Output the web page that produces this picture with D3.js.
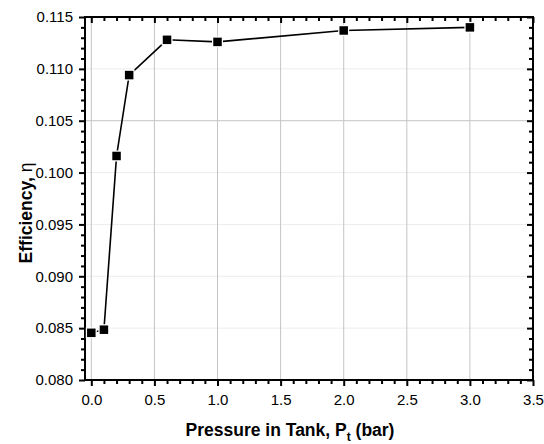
<!DOCTYPE html>
<html>
<head>
<meta charset="utf-8">
<script src="https://cdn.jsdelivr.net/npm/d3@7/dist/d3.min.js"></script>
<style>
  html, body { margin: 0; padding: 0; background: #fff; }
  svg { display: block; font-family: "Liberation Sans", Arial, sans-serif; }
</style>
</head>
<body>
<svg id="chart" width="544" height="444"></svg>
<script>
// Measured tank pressure (bar) and resulting efficiency
const pressure = [0.0, 0.1, 0.2, 0.3, 0.6, 1.0, 2.0, 3.0];
const efficiency = [0.08455, 0.08485, 0.1016, 0.1094, 0.1128, 0.1126, 0.1137, 0.1140];

const xTicks = [0.0, 0.5, 1.0, 1.5, 2.0, 2.5, 3.0, 3.5];
const yTicks = [0.080, 0.085, 0.090, 0.095, 0.100, 0.105, 0.110, 0.115];

const svg = d3.select("#chart");
const plotL = 85, plotR = 533, plotT = 17, plotB = 380;

const x = d3.scaleLinear().domain([-0.05, 3.5]).range([plotL, plotR]);
const y = d3.scaleLinear().domain([0.080, 0.115]).range([plotB, plotT]);

const xMinor = d3.range(0, 35.5, 1).map(d => d / 10).filter(d => Math.round(d * 10) % 5 !== 0);
const yMinor = d3.range(80, 115.5, 1).map(d => d / 1000).filter(d => Math.round(d * 1000) % 5 !== 0);

// grid
const grid = svg.append("g");
grid.selectAll("line.h").data(yTicks.slice(1, -1)).join("line")
  .attr("x1", plotL).attr("x2", plotR)
  .attr("y1", d => y(d)).attr("y2", d => y(d))
  .attr("stroke", d => Math.abs(d - 0.105) < 1e-9 ? "#c4c4c4" : "#ececec")
  .attr("stroke-width", 1);
grid.selectAll("line.v").data(xTicks.slice(0, -1)).join("line")
  .attr("x1", d => x(d)).attr("x2", d => x(d))
  .attr("y1", plotT).attr("y2", plotB)
  .attr("stroke", "#c4c4c4").attr("stroke-width", 1);

// axes: bottom/left ticks outward, top/right mirror ticks inward
function styleAxis(g) {
  g.select(".domain").remove();
  g.selectAll(".tick line").attr("stroke", "#000").attr("stroke-width", 2);
  g.selectAll("text").attr("font-size", 15).attr("fill", "#000")
    .attr("font-family", "'Liberation Sans', Arial, sans-serif");
}

svg.append("g").attr("transform", `translate(0,${plotB})`)
  .call(d3.axisBottom(x).tickValues(xTicks).tickFormat(d3.format(".1f")).tickSize(6).tickPadding(8))
  .call(styleAxis);
svg.append("g").attr("transform", `translate(0,${plotB})`)
  .call(d3.axisBottom(x).tickValues(xMinor).tickFormat("").tickSize(4)).call(styleAxis);

svg.append("g").attr("transform", `translate(${plotL},0)`)
  .call(d3.axisLeft(y).tickValues(yTicks).tickFormat(d3.format(".3f")).tickSize(6).tickPadding(6))
  .call(styleAxis);
svg.append("g").attr("transform", `translate(${plotL},0)`)
  .call(d3.axisLeft(y).tickValues(yMinor).tickFormat("").tickSize(4)).call(styleAxis);

svg.append("g").attr("transform", `translate(0,${plotT})`)
  .call(d3.axisBottom(x).tickValues(xTicks).tickFormat("").tickSize(6)).call(styleAxis);
svg.append("g").attr("transform", `translate(0,${plotT})`)
  .call(d3.axisBottom(x).tickValues(xMinor).tickFormat("").tickSize(4)).call(styleAxis);
svg.append("g").attr("transform", `translate(${plotR},0)`)
  .call(d3.axisLeft(y).tickValues(yTicks).tickFormat("").tickSize(6)).call(styleAxis);
svg.append("g").attr("transform", `translate(${plotR},0)`)
  .call(d3.axisLeft(y).tickValues(yMinor).tickFormat("").tickSize(4)).call(styleAxis);

// frame
svg.append("rect").attr("x", plotL).attr("y", plotT)
  .attr("width", plotR - plotL).attr("height", plotB - plotT)
  .attr("fill", "none").attr("stroke", "#000").attr("stroke-width", 2);

// data line and square markers
const pts = pressure.map((p, i) => [p, efficiency[i]]);
svg.append("path").datum(pts)
  .attr("d", d3.line().x(d => x(d[0])).y(d => y(d[1])))
  .attr("fill", "none").attr("stroke", "#000").attr("stroke-width", 1.6);

const ms = 8.5;
svg.append("g").selectAll("rect").data(pts).join("rect")
  .attr("x", d => x(d[0]) - ms / 2).attr("y", d => y(d[1]) - ms / 2)
  .attr("width", ms).attr("height", ms)
  .attr("fill", "#000").attr("stroke", "#fff").attr("stroke-width", 2.5)
  .attr("paint-order", "stroke");

// axis titles
const xt = svg.append("text").attr("x", 290).attr("y", 436)
  .attr("text-anchor", "middle").attr("font-size", 17.5).attr("font-weight", "bold");
xt.append("tspan").text("Pressure in Tank, P");
xt.append("tspan").attr("font-size", 12).attr("dy", 5).text("t");
xt.append("tspan").attr("dy", -5).text(" (bar)");

const yt = svg.append("text").attr("transform", "translate(32,213) rotate(-90)")
  .attr("text-anchor", "middle").attr("font-size", 17.5).attr("font-weight", "bold");
yt.append("tspan").text("Efficiency, ");
yt.append("tspan").attr("font-weight", "normal").text("η");
</script>
</body>
</html>
